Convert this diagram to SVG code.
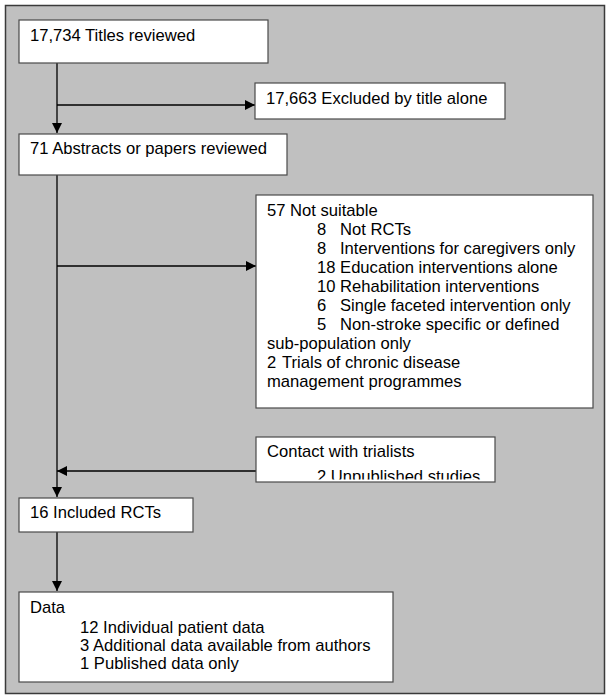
<svg xmlns="http://www.w3.org/2000/svg" width="613" height="700" viewBox="0 0 613 700">
<style>
.bg{fill:#c0c0c0;stroke:#3a3a3a;stroke-width:1.5}
.box{fill:#ffffff;stroke:#4a4a4a;stroke-width:1.2}
.t{font-family:"Liberation Sans",Arial,sans-serif;font-size:16.6px;fill:#000}
.ln{stroke:#000;stroke-width:1.3;fill:none}
</style>
<defs>
<marker id="ah" viewBox="0 0 10 10" refX="10" refY="5" markerWidth="10" markerHeight="10" markerUnits="userSpaceOnUse" orient="auto">
<path d="M0,0 L10,5 L0,10 z" fill="#000"/>
</marker>
<clipPath id="clipContact"><rect x="256" y="437" width="239" height="42.5"/></clipPath>
</defs>
<rect class="bg" x="5.5" y="5.5" width="599" height="688"/>
<g id="connectors">
<line class="ln" x1="57" y1="63" x2="57" y2="133" marker-end="url(#ah)"/>
<line class="ln" x1="57" y1="105" x2="255" y2="105" marker-end="url(#ah)"/>
<line class="ln" x1="57" y1="175" x2="57" y2="497" marker-end="url(#ah)"/>
<line class="ln" x1="57" y1="266" x2="256" y2="266" marker-end="url(#ah)"/>
<line class="ln" x1="256" y1="471" x2="57" y2="471" marker-end="url(#ah)"/>
<line class="ln" x1="57" y1="532" x2="57" y2="591" marker-end="url(#ah)"/>
</g>
<g id="titles">
<rect class="box" x="19" y="20" width="249" height="43"/>
<text class="t" x="30" y="41">17,734 Titles reviewed</text>
</g>
<g id="excluded">
<rect class="box" x="255" y="83" width="250" height="36"/>
<text class="t" x="266" y="104">17,663 Excluded by title alone</text>
</g>
<g id="abstracts">
<rect class="box" x="19" y="134" width="268" height="41"/>
<text class="t" x="30" y="154">71 Abstracts or papers reviewed</text>
</g>
<g id="notsuitable">
<rect class="box" x="256" y="195" width="337" height="213"/>
<text class="t" x="267" y="216">57 Not suitable</text>
<text class="t" x="317" y="235">8</text><text class="t" x="340" y="235">Not RCTs</text>
<text class="t" x="317" y="254">8</text><text class="t" x="340" y="254">Interventions for caregivers only</text>
<text class="t" x="317" y="273">18 Education interventions alone</text>
<text class="t" x="317" y="292">10 Rehabilitation interventions</text>
<text class="t" x="317" y="311">6</text><text class="t" x="340" y="311">Single faceted intervention only</text>
<text class="t" x="317" y="330">5</text><text class="t" x="340" y="330">Non-stroke specific or defined</text>
<text class="t" x="267" y="349">sub-population only</text>
<text class="t" x="267" y="368">2</text><text class="t" x="282" y="368">Trials of chronic disease</text>
<text class="t" x="267" y="387">management programmes</text>
</g>
<g id="contact">
<rect class="box" x="256" y="437" width="239" height="45"/>
<text class="t" x="267" y="457">Contact with trialists</text>
<text class="t" x="317" y="482" clip-path="url(#clipContact)">2 Unpublished studies</text>
</g>
<g id="included">
<rect class="box" x="19" y="498" width="174" height="34"/>
<text class="t" x="30" y="518">16 Included RCTs</text>
</g>
<g id="data">
<rect class="box" x="19" y="592" width="374" height="90"/>
<text class="t" x="30" y="613">Data</text>
<text class="t" x="80" y="633">12 Individual patient data</text>
<text class="t" x="80" y="651">3 Additional data available from authors</text>
<text class="t" x="80" y="669">1 Published data only</text>
</g>
</svg>
